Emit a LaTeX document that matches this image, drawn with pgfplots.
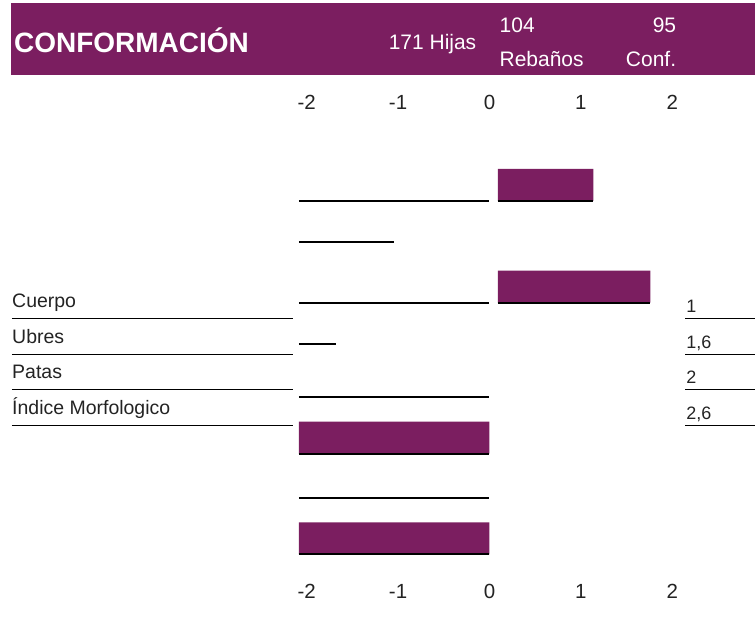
\documentclass[border=0pt]{standalone}
\usepackage{pgfplots}
\pgfplotsset{compat=1.18}
\usepackage{fontspec}
\setmainfont{Liberation Sans}
\definecolor{conf}{RGB}{123,30,96}
\definecolor{txt}{RGB}{35,35,35}
\begin{document}
\begin{tikzpicture}
\pgfplotsset{common/.style={
  scale only axis, width=457.5pt, height=467.5pt,
  xmin=-2.5, xmax=2.5, ymin=38, ymax=505.5,
  clip=false, axis line style={draw=none}, major tick length=0pt,
  ytick=\empty, xtick={-2,-1,0,1,2}, xticklabels={-2,-1,0,1,2},
  tick label style={font=\fontsize{20.5}{24}\selectfont, text=txt},
}}
\begin{axis}[common, xticklabel pos=right, hide y axis]
\end{axis}
\begin{axis}[common, xticklabel pos=left]
% invisible frame: full picture size
\path (axis cs:-5.3552,0) rectangle (axis cs:2.9071,619);
% header band
\fill[conf] (axis cs:-5.2350,544) rectangle (axis cs:2.9071,616);
\node[anchor=base west, text=white, font=\fontsize{28}{32}\selectfont\bfseries, inner sep=0pt] at (axis cs:-5.2022,566) {CONFORMACIÓN};
\node[anchor=base, text=white, font=\fontsize{21}{25}\selectfont, inner sep=0pt] at (axis cs:-0.6230,569) {171 Hijas};
\node[anchor=base west, text=white, font=\fontsize{21}{25}\selectfont, inner sep=0pt] at (axis cs:0.1093,586) {104};
\node[anchor=base west, text=white, font=\fontsize{21}{25}\selectfont, inner sep=0pt] at (axis cs:0.1093,552) {Rebaños};
\node[anchor=base east, text=white, font=\fontsize{21}{25}\selectfont, inner sep=0pt] at (axis cs:2.0437,586) {95};
\node[anchor=base east, text=white, font=\fontsize{21}{25}\selectfont, inner sep=0pt] at (axis cs:2.0437,552) {Conf.};
% bars
\addplot[fill=conf, draw=none] coordinates {(0.091,418) (1.137,418) (1.137,450) (0.091,450) (0.091,418)};
\addplot[fill=conf, draw=none] coordinates {(0.091,316) (1.760,316) (1.760,348) (0.091,348) (0.091,316)};
\addplot[fill=conf, draw=none] coordinates {(-2.084,165) (0,165) (0,197) (-2.084,197) (-2.084,165)};
\addplot[fill=conf, draw=none] coordinates {(-2.084,64) (0,64) (0,96) (-2.084,96) (-2.084,64)};
% bar bottoms
\addplot[black, line width=2pt] coordinates {(0.091,418) (1.137,418)};
\addplot[black, line width=2pt] coordinates {(0.091,316) (1.760,316)};
\addplot[black, line width=2pt] coordinates {(-2.084,165) (0,165)};
\addplot[black, line width=2pt] coordinates {(-2.084,64) (0,64)};
% lines
\addplot[black, line width=2pt] coordinates {(-2.084,418) (-0.008,418)};
\addplot[black, line width=2pt] coordinates {(-2.084,377) (-1.046,377)};
\addplot[black, line width=2pt] coordinates {(-2.084,316) (-0.008,316)};
\addplot[black, line width=2pt] coordinates {(-2.084,275) (-1.675,275)};
\addplot[black, line width=2pt] coordinates {(-2.084,222) (-0.008,222)};
\addplot[black, line width=2pt] coordinates {(-2.084,120) (-0.008,120)};
% left labels and underlines
\addplot[black, line width=1.6pt] coordinates {(-5.2240,300) (-2.1530,300)};
\addplot[black, line width=1.6pt] coordinates {(-5.2240,264) (-2.1530,264)};
\addplot[black, line width=1.6pt] coordinates {(-5.2240,229) (-2.1530,229)};
\addplot[black, line width=1.6pt] coordinates {(-5.2240,193) (-2.1530,193)};
\node[anchor=base west, text=txt, font=\fontsize{19.5}{23}\selectfont, inner sep=0pt] at (axis cs:-5.2240,311) {Cuerpo};
\node[anchor=base west, text=txt, font=\fontsize{19.5}{23}\selectfont, inner sep=0pt] at (axis cs:-5.2240,275) {Ubres};
\node[anchor=base west, text=txt, font=\fontsize{19.5}{23}\selectfont, inner sep=0pt] at (axis cs:-5.2240,240) {Patas};
\node[anchor=base west, text=txt, font=\fontsize{19.5}{23}\selectfont, inner sep=0pt] at (axis cs:-5.2240,204) {Índice Morfologico};
% right labels and underlines
\addplot[black, line width=1.6pt] coordinates {(2.1421,300) (2.9071,300)};
\addplot[black, line width=1.6pt] coordinates {(2.1421,264) (2.9071,264)};
\addplot[black, line width=1.6pt] coordinates {(2.1421,229) (2.9071,229)};
\addplot[black, line width=1.6pt] coordinates {(2.1421,193) (2.9071,193)};
\node[anchor=base west, text=txt, font=\fontsize{18}{22}\selectfont, inner sep=0pt] at (axis cs:2.1530,306) {1};
\node[anchor=base west, text=txt, font=\fontsize{18}{22}\selectfont, inner sep=0pt] at (axis cs:2.1530,270) {1,6};
\node[anchor=base west, text=txt, font=\fontsize{18}{22}\selectfont, inner sep=0pt] at (axis cs:2.1530,235) {2};
\node[anchor=base west, text=txt, font=\fontsize{18}{22}\selectfont, inner sep=0pt] at (axis cs:2.1530,199) {2,6};
\end{axis}
\end{tikzpicture}
\end{document}
